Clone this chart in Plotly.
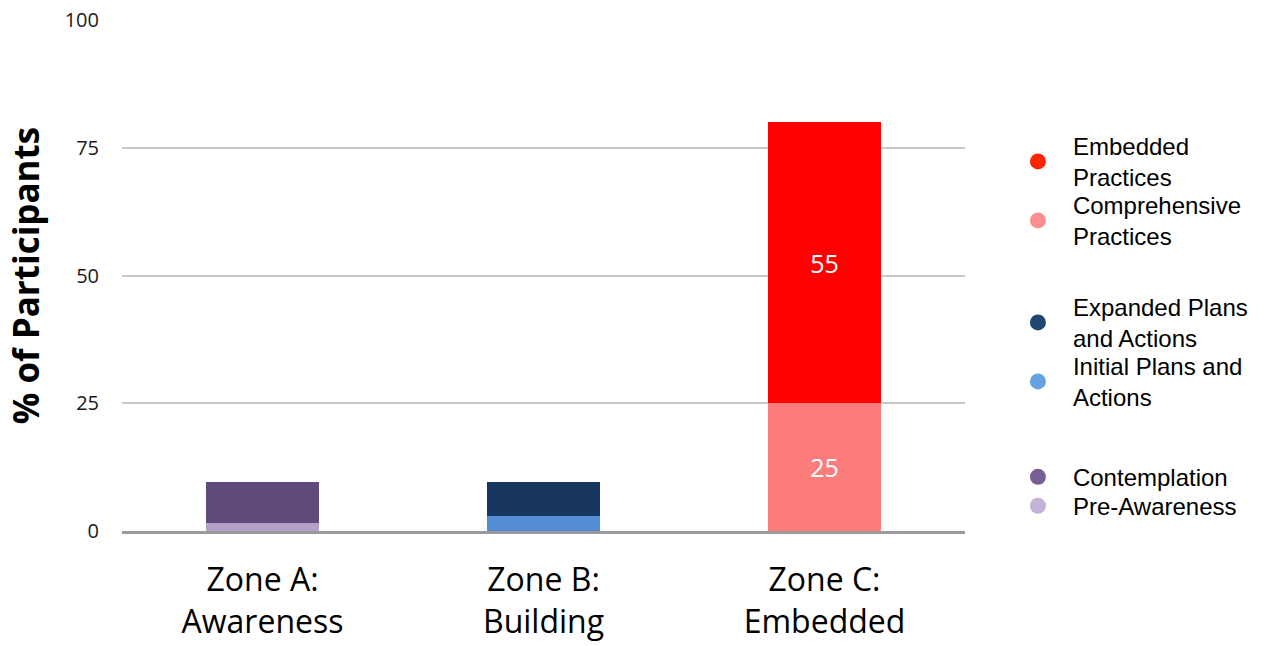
import plotly.graph_objects as go

zones = ["Zone A:<br>Awareness", "Zone B:<br>Building", "Zone C:<br>Embedded"]

# stage values (% of participants) per zone
pre_awareness = [1.6, 0, 0]
contemplation = [8.0, 0, 0]
initial_plans = [0, 3.0, 0]
expanded_plans = [0, 6.6, 0]
comprehensive = [0, 0, 25]
embedded = [0, 0, 55]

y_ticks = [0, 25, 50, 75, 100]

# name, values, bar colour, legend-dot colour, legend id, legend y (paper)
series = [
    ("Pre-Awareness", pre_awareness, "#B3A2C7", "#C3B4D7", "legend6", 0.0926),
    ("Contemplation", contemplation, "#604A7B", "#775E93", "legend5", 0.1493),
    ("Initial Plans and<br>Actions", initial_plans, "#548DD4", "#66A2DF", "legend4", 0.3665),
    ("Expanded Plans<br>and Actions", expanded_plans, "#17375E", "#1F4771", "legend3", 0.482),
    ("Comprehensive<br>Practices", comprehensive, "#FC7C7C", "#FF8E8E", "legend2", 0.6816),
    ("Embedded<br>Practices", embedded, "#FF0000", "#FF2400", "legend", 0.797),
]

fig = go.Figure()
for name, vals, col, _, _, _ in series:
    labels = [f"{v:g}" if v >= 20 else "" for v in vals]
    fig.add_trace(go.Bar(
        x=zones, y=vals, name=name, marker=dict(color=col, line=dict(width=0)),
        text=labels, textposition="inside", insidetextanchor="middle", textangle=0,
        textfont=dict(family="Open Sans", size=25, color="white"),
        showlegend=False, hoverinfo="skip",
    ))

legend_common = dict(
    font=dict(family="Liberation Sans, Arial", size=24, color="black"),
    bgcolor="rgba(0,0,0,0)", borderwidth=0, itemwidth=60,
    xanchor="left", yanchor="top", x=1.045,
)
legends = {}
for name, vals, _, lcol, leg, ly in reversed(series):
    fig.add_trace(go.Scatter(
        x=[None], y=[None], mode="markers", name=name, legend=leg,
        marker=dict(symbol="circle", size=16, color=lcol),
        showlegend=True, hoverinfo="skip",
    ))
    legends[leg] = dict(**legend_common, y=ly)

fig.update_layout(
    width=1267, height=646,
    margin=dict(l=122, r=302, t=20, b=115, autoexpand=False),
    plot_bgcolor="white", paper_bgcolor="white",
    barmode="stack", bargap=0.595,
    **legends,
    xaxis=dict(
        tickfont=dict(family="Open Sans", size=32, color="black"),
        showgrid=False, ticks="", ticklabelstandoff=19,
        showline=True, linecolor="#9A9A9A", linewidth=2.5, layer="above traces",
        automargin=False,
    ),
    yaxis=dict(
        range=[0, 100], tickvals=y_ticks, showline=False, ticks="",
        gridcolor="#C8C8C8", gridwidth=1.5, zeroline=False,
        tickfont=dict(family="Open Sans", size=20, color="#1a1a1a"),
        ticklabelstandoff=22, automargin=False,
        title=dict(text="<b>% of Participants</b>", standoff=14,
                   font=dict(family="Open Sans", size=35, color="black")),
    ),
)

fig.write_html("out.html")
